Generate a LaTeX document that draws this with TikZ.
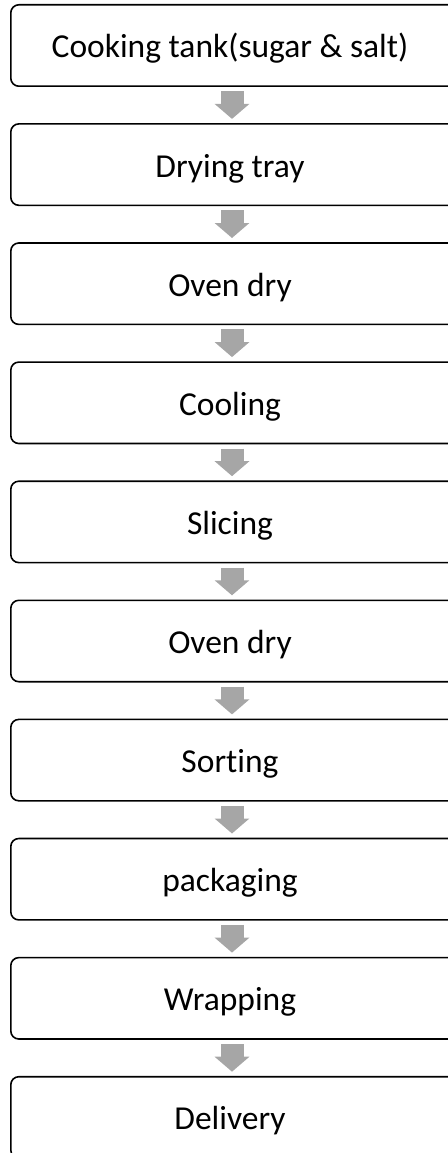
\documentclass[tikz,border=0pt]{standalone}
\usepackage{fontspec}
\setmainfont{Carlito}[Ligatures={NoCommon}]
\usetikzlibrary{arrows.meta}
\tikzset{
  stepbox/.style={minimum width=440pt, minimum height=81pt, inner sep=0pt,
    text height=30pt, text depth=5pt,
    font=\fontsize{33.5}{40}\selectfont},
  boxframe/.style={draw=black, line width=1.6pt, rounded corners=8pt},
  flow/.style={draw=gray!70, line width=23pt,
    -{Triangle[width=34pt,length=15pt]}, shorten <=5pt, shorten >=5pt}
}
\begin{document}
\begin{tikzpicture}[x=1pt,y=1pt]
  \useasboundingbox (0,0) rectangle (447,-1153);
  \foreach \name/\label [count=\i from 0] in {
      s0/{Cooking tank(sugar \& salt)}, s1/{Drying tray}, s2/{Oven dry},
      s3/{Cooling}, s4/{Slicing}, s5/{Oven dry}, s6/{Sorting},
      s7/{packaging}, s8/{Wrapping}, s9/{Delivery}} {
    \node[stepbox] (\name) at (230, {-45.5-119.1*\i}) {\label};
    % the frame runs past the right edge of the page
    \draw[boxframe] ([xshift=1pt]\name.south west) rectangle ([xshift=30pt]\name.north east);
  }
  \foreach \a/\b in {s0/s1, s1/s2, s2/s3, s3/s4, s4/s5, s5/s6, s6/s7, s7/s8, s8/s9} {
    \draw[flow] (\a.south -| 232,0) -- (\b.north -| 232,0);
  }
\end{tikzpicture}
\end{document}
